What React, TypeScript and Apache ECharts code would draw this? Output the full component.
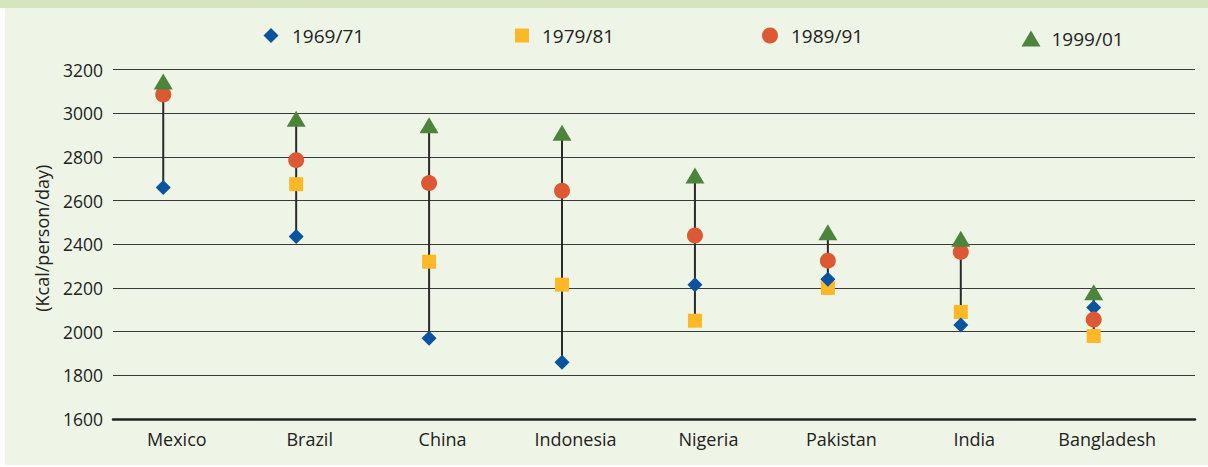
import React, { useEffect, useRef } from "react";
import * as echarts from "echarts";

const categories = ["Mexico", "Brazil", "China", "Indonesia", "Nigeria", "Pakistan", "India", "Bangladesh"];
const yTicks = [1600, 1800, 2000, 2200, 2400, 2600, 2800, 3000, 3200];
const s1969 = [2660, 2435, 1970, 1860, 2215, 2240, 2030, 2110];
const s1979 = [null, 2675, 2320, 2215, 2050, 2200, 2090, 1980];
const s1989 = [3085, 2785, 2680, 2645, 2440, 2325, 2365, 2055];
const s1999 = [3145, 2975, 2945, 2910, 2715, 2455, 2425, 2180];
const seriesNames = ["1969/71", "1979/81", "1989/91", "1999/01"];

const FONT = "'Open Sans', Lato, sans-serif";

export default function App() {
  const ref = useRef<HTMLDivElement>(null);
  useEffect(() => {
    document.body.style.margin = "0";
    const chart = echarts.init(ref.current!, undefined, { renderer: "svg" });
    const all = [s1969, s1979, s1989, s1999];
    const ranges = categories.map((_, i) => {
      const vals = all.map((s) => s[i]).filter((v) => v != null) as number[];
      return [i, Math.min(...vals), Math.max(...vals)];
    });
    const pts = (arr: (number | null)[]) => arr.map((v, i) => (v == null ? [i, null] : [i, v]));
    const legendBase = {
      top: 21,
      selectedMode: false,
    };
    const lt = (pad: number) => ({ fontSize: 19, color: "#222", fontFamily: FONT, padding: [0, 0, 0, pad] });
    chart.setOption({
      animation: false,
      textStyle: { fontFamily: FONT },
      grid: { left: 113, right: 13, top: 69.5, bottom: 48, outerBoundsMode: "none" },
      legend: [
        { ...legendBase, left: 258.5, data: [seriesNames[0]], icon: "diamond", itemWidth: 15, itemHeight: 15, textStyle: lt(8.5) },
        { ...legendBase, left: 510, data: [seriesNames[1]], icon: "rect", itemWidth: 14, itemHeight: 14, textStyle: lt(8) },
        { ...legendBase, left: 757, data: [seriesNames[2]], icon: "circle", itemWidth: 16, itemHeight: 16, textStyle: lt(8) },
        { ...legendBase, left: 1016.5, top: 24, data: [seriesNames[3]], icon: "triangle", itemWidth: 19, itemHeight: 16, textStyle: lt(6) },
      ],
      xAxis: {
        type: "value",
        min: -0.378,
        max: 7.762,
        splitLine: { show: false },
        axisTick: { show: false },
        axisLine: { show: true, onZero: false, lineStyle: { color: "#222", width: 2.5 } },
        axisLabel: {
          customValues: categories.map((_, i) => i),
          formatter: (v: number) => categories[Math.round(v)] ?? "",
          fontSize: 18,
          color: "#222",
          margin: 11,
          padding: [0, 0, 0, 27],
          fontFamily: FONT,
        },
      },
      yAxis: {
        type: "value",
        min: yTicks[0],
        max: yTicks[yTicks.length - 1],
        interval: 200,
        name: "(Kcal/person/day)",
        nameLocation: "middle",
        nameGap: 62,
        nameTextStyle: { fontSize: 18, color: "#222", fontFamily: FONT, padding: [0, 0, 0, 12] },
        axisLine: { show: false, onZero: false },
        axisTick: { show: false },
        axisLabel: { fontSize: 17.5, color: "#222", margin: 10, fontFamily: FONT, formatter: (v: number) => String(v) },
        splitLine: { show: true, lineStyle: { color: "#3a3a3a", width: 1.2 } },
      },
      series: [
        {
          type: "custom",
          z: 1,
          data: ranges,
          encode: { x: 0, y: [1, 2] },
          renderItem: (_params: any, api: any) => {
            const p1 = api.coord([api.value(0), api.value(1)]);
            const p2 = api.coord([api.value(0), api.value(2)]);
            return {
              type: "line",
              shape: { x1: p1[0], y1: p1[1], x2: p2[0], y2: p2[1] },
              style: { stroke: "#2a2a2a", lineWidth: 2 },
            };
          },
        },
        {
          name: seriesNames[1],
          type: "scatter",
          z: 2,
          symbol: "rect",
          symbolSize: 14,
          itemStyle: { color: "#fcb827", opacity: 1 },
          data: pts(s1979),
        },
        {
          name: seriesNames[0],
          type: "scatter",
          z: 3,
          symbol: "diamond",
          symbolSize: 15,
          itemStyle: { color: "#0a53a0", opacity: 1 },
          data: pts(s1969),
        },
        {
          name: seriesNames[2],
          type: "scatter",
          z: 4,
          symbol: "circle",
          symbolSize: 16,
          itemStyle: { color: "#dc5934", opacity: 1 },
          data: pts(s1989),
        },
        {
          name: seriesNames[3],
          type: "scatter",
          z: 5,
          symbol: "triangle",
          symbolSize: [19, 16],
          itemStyle: { color: "#4b843a", opacity: 1 },
          data: pts(s1999),
        },
      ],
    });
    return () => chart.dispose();
  }, []);
  return (
    <div style={{ position: "relative", width: 1208, height: 467, background: "#ffffff", overflow: "hidden" }}>
      <div style={{ position: "absolute", left: 0, top: 0, width: 1208, height: 8, background: "#d5e5bd" }} />
      <div style={{ position: "absolute", left: 5, top: 8, width: 1203, height: 457, background: "#eff5e6" }} />
      <div ref={ref} style={{ position: "absolute", left: 0, top: 0, width: 1208, height: 467 }} />
    </div>
  );
}
